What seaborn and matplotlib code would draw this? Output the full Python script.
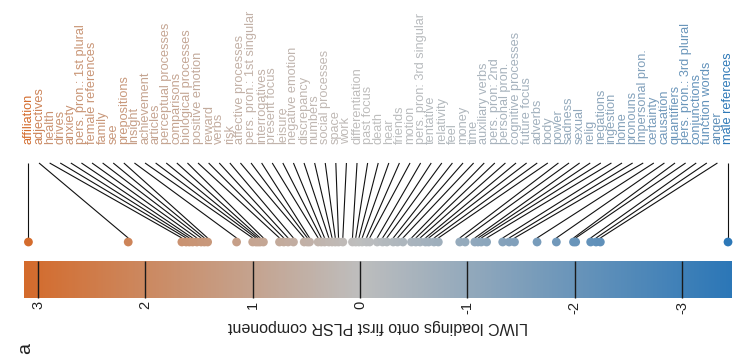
import matplotlib
matplotlib.use("Agg")
import matplotlib.pyplot as plt
import matplotlib.colors as mcolors
import numpy as np
import seaborn as sns

sns.set_theme(style="white")
plt.rcParams['font.family'] = ['Liberation Sans', 'DejaVu Sans']

categories = [
    "affiliation", "adjectives", "health", "drives", "anxiety",
    "pers. pron.: 1st plural", "female references", "family", "see",
    "prepositions", "insight", "achievement", "articles",
    "perceptual processes", "comparisons", "biological processes",
    "positive emotion", "reward", "verbs", "risk", "affective processes",
    "pers. pron.: 1st singular", "interrogatives", "present focus",
    "leisure", "negative emotion", "discrepancy", "numbers",
    "social processes", "space", "work", "differentiation", "past focus",
    "death", "hear", "friends", "motion", "pers. pron: 3rd singular",
    "tentative", "relativity", "feel", "money", "time", "auxiliary verbs",
    "pers. pron: 2nd", "personal pron.", "cognitive processes",
    "future focus", "adverbs", "body", "power", "sadness", "sexual",
    "relig", "negations", "ingestion", "home", "pronouns",
    "impersonal pron.", "certainty", "causation", "quantifiers",
    "pers. pron.: 3rd plural", "conjunctions", "function words", "anger",
    "male references",
]

loadings = [
    3.09, 2.16,
    1.66, 1.62, 1.59, 1.56, 1.52, 1.48, 1.45, 1.42,
    1.15,
    1.00, 0.97, 0.95, 0.93, 0.90,
    0.75, 0.71, 0.67, 0.62,
    0.52, 0.49, 0.47,
    0.39, 0.36, 0.33, 0.29, 0.26, 0.23, 0.20, 0.16,
    0.07, 0.04, 0.01, -0.02, -0.06, -0.09,
    -0.16, -0.21, -0.25,
    -0.31, -0.35, -0.40,
    -0.48, -0.52, -0.56, -0.61, -0.64, -0.69, -0.73,
    -0.93, -0.98,
    -1.07, -1.10, -1.13,
    -1.18,
    -1.33, -1.39, -1.44,
    -1.65,
    -1.83,
    -1.99, -2.01,
    -2.15, -2.20, -2.24,
    -3.43,
]

cbar_range = [3.13, -3.46]
cbar_ticks = [3, 2, 1, 0, -1, -2, -3]
cbar_label = "LIWC loadings onto first PLSR component"
panel_label = "a"

cmap = mcolors.LinearSegmentedColormap.from_list(
    "bo", ["#2C77B7", "#BEBEBE", "#D46B2C"])
norm = mcolors.TwoSlopeNorm(vmin=cbar_range[1], vcenter=0, vmax=cbar_range[0])

fig = plt.figure(figsize=(7.35, 3.58), dpi=100)
ax = fig.add_axes([0, 0, 1, 1])

X0, X1 = 3.355, -3.495
n = len(categories)
vals = np.array(loadings)
label_x = np.linspace(vals[0], vals[-1], n)

# connecting lines
for lx, dx in zip(label_x, vals):
    ax.plot([lx, dx], [163, 238], color="#111111", lw=0.8, zorder=1,
            solid_capstyle="butt")

# dots
sns.scatterplot(x=vals, y=np.full(n, 242.0), hue=vals, palette=cmap,
                hue_norm=norm, legend=False, s=40, edgecolor="none",
                linewidth=0, ax=ax, zorder=3)

# labels
for lx, v, name in zip(label_x, vals, categories):
    ax.text(lx, 144, name, rotation=90, ha="center", va="bottom",
            fontsize=9.2, color=cmap(norm(v)))

# colorbar gradient
grad = np.linspace(cbar_range[0], cbar_range[1], 600).reshape(1, -1)
ax.imshow(grad, cmap=cmap, norm=norm, aspect="auto",
          extent=(cbar_range[0], cbar_range[1], 298, 261), zorder=0)
ax.vlines(cbar_ticks, 261, 298, color="#1a1a1a", lw=1.0, zorder=2)
for t in cbar_ticks:
    ax.text(t, 301, str(t), rotation=90, ha="center", va="top",
            fontsize=10.5, color="#222222")
ax.text(np.mean(cbar_range), 319, cbar_label, rotation=180, ha="center",
        va="top", fontsize=11.5, color="#222222")
ax.text(3.12, 354, panel_label, rotation=90, ha="center", va="bottom",
        fontsize=14, color="#222222")

ax.set_xlim(X0, X1)
ax.set_ylim(358, 0)
ax.axis("off")

fig.savefig("out.png", dpi=100)
